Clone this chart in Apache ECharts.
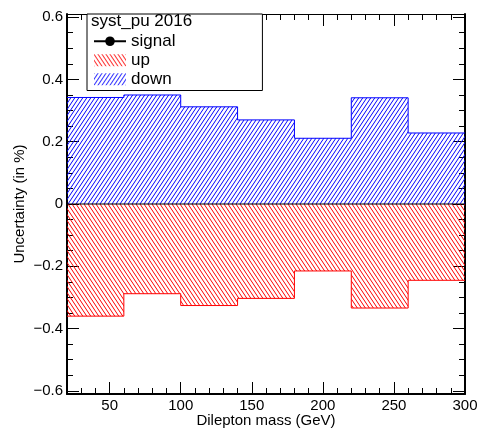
<!DOCTYPE html>
<html><head><meta charset="utf-8">
<script src="https://cdn.jsdelivr.net/npm/echarts@6/dist/echarts.min.js"></script>
<style>html,body{margin:0;padding:0;background:#fff}#c{width:479px;height:430px}</style>
</head><body><div id="c"></div>
<script>
// ---- data ----
const binEdges = [20, 60, 100, 140, 180, 220, 260, 300];
const signalValues = [0, 0, 0, 0, 0, 0, 0];
const upValues = [-0.360, -0.288, -0.326, -0.303, -0.215, -0.334, -0.245];
const downValues = [0.342, 0.350, 0.312, 0.270, 0.211, 0.341, 0.228];
const yMajorTicks = [-0.6, -0.4, -0.2, 0, 0.2, 0.4, 0.6];
const yMinorTicks = [-0.55, -0.5, -0.45, -0.35, -0.3, -0.25, -0.15, -0.1, -0.05, 0.05, 0.1, 0.15, 0.25, 0.3, 0.35, 0.45, 0.5, 0.55];
const xMajorTicks = [50, 100, 150, 200, 250, 300];
const xMinorTicks = [30, 40, 60, 70, 80, 90, 110, 120, 130, 140, 160, 170, 180, 190, 210, 220, 230, 240, 260, 270, 280, 290];
const seriesNames = ['signal', 'up', 'down'];
const legendTitle = 'syst_pu 2016';
const xTitle = 'Dilepton mass (GeV)';
const yTitle = 'Uncertainty (in %)';

const FONT = "'Liberation Sans', Arimo, Helvetica, Arial, sans-serif";

function hatch(color, dir) {
  const w = 4, h = 6;
  const c = document.createElement('canvas');
  c.width = w; c.height = h;
  const ctx = c.getContext('2d');
  ctx.strokeStyle = color; ctx.lineWidth = 1;
  for (let s = -2; s <= 2; s++) {
    ctx.beginPath();
    if (dir === '/') { ctx.moveTo(-w + s * w, 2 * h); ctx.lineTo(2 * w + s * w, -h); }
    else { ctx.moveTo(-w + s * w, -h); ctx.lineTo(2 * w + s * w, 2 * h); }
    ctx.stroke();
  }
  return { image: c, repeat: 'repeat' };
}
const redPat = hatch('#ff0000', '\\');
const bluePat = hatch('#0000ff', '/');

function histPoints(vals) {
  return binEdges.map((e, i) => [e, vals[Math.min(i, vals.length - 1)]]);
}

function yAx(pos, ticks, len, main) {
  return {
    type: 'value', position: pos, min: -0.61, max: 0.61,
    name: (main && pos === 'left') ? yTitle : '',
    nameLocation: 'middle', nameGap: 40, nameMoveOverlap: false,
    nameTextStyle: { fontSize: 15, color: '#000', fontFamily: FONT },
    axisLine: { show: main, onZero: false, lineStyle: { color: '#000', width: 2 } },
    axisTick: { show: true, inside: true, length: len, customValues: ticks, lineStyle: { color: '#000', width: 1 } },
    axisLabel: {
      show: main && pos === 'left', customValues: yMajorTicks, margin: 4,
      fontSize: 15, color: '#000', fontFamily: FONT,
      formatter: v => Math.abs(v) < 1e-9 ? '0' : (v < 0 ? '\u2212' : '') + Math.abs(v).toFixed(1)
    },
    splitLine: { show: false }
  };
}
function xAx(pos, ticks, len, main) {
  return {
    type: 'value', position: pos, min: 20, max: 300,
    name: (main && pos === 'bottom') ? xTitle : '',
    nameLocation: 'middle', nameGap: 19, nameMoveOverlap: false,
    nameTextStyle: { fontSize: 15, color: '#000', fontFamily: FONT },
    axisLine: { show: main, onZero: false, lineStyle: { color: '#000', width: pos === 'top' ? 1 : 2 } },
    axisTick: { show: true, inside: true, length: len, customValues: ticks, lineStyle: { color: '#000', width: 1 } },
    axisLabel: {
      show: main && pos === 'bottom', customValues: xMajorTicks, margin: 4,
      fontSize: 15, color: '#000', fontFamily: FONT
    },
    splitLine: { show: false }
  };
}

const chart = echarts.init(document.getElementById('c'), null, { renderer: 'canvas' });
chart.setOption({
  animation: false,
  backgroundColor: '#fff',
  grid: { left: 67, right: 14, top: 14, bottom: 36, containLabel: false, outerBoundsMode: 'none' },
  title: {
    text: legendTitle, left: 91, top: 13, padding: 0, z: 10,
    textStyle: { fontSize: 17, fontWeight: 'normal', color: '#000', lineHeight: 17, fontFamily: FONT }
  },
  legend: {
    orient: 'vertical', left: 87, top: 14, padding: [18, 87, 2, 6],
    itemGap: 0.5, itemWidth: 32, itemHeight: 12,
    borderColor: '#000', borderWidth: 1, backgroundColor: '#fff',
    selectedMode: false,
    textStyle: { fontSize: 17, lineHeight: 18.5, color: '#000', fontFamily: FONT },
    data: [
      { name: seriesNames[0] },
      { name: seriesNames[1], icon: 'rect', itemStyle: { color: redPat, borderWidth: 0 } },
      { name: seriesNames[2], icon: 'rect', itemStyle: { color: bluePat, borderWidth: 0 } }
    ]
  },
  xAxis: [
    xAx('bottom', xMajorTicks, 12, true),
    xAx('bottom', xMinorTicks, 6, false),
    xAx('top', xMajorTicks, 12, true),
    xAx('top', xMinorTicks, 6, false)
  ],
  yAxis: [
    yAx('left', yMajorTicks, 12, true),
    yAx('left', yMinorTicks, 6, false),
    yAx('right', yMajorTicks, 12, true),
    yAx('right', yMinorTicks, 6, false)
  ],
  series: [
    {
      name: seriesNames[2], type: 'line', step: 'end', symbol: 'none',
      data: histPoints(downValues),
      lineStyle: { color: '#0000ff', width: 1 }, itemStyle: { color: '#0000ff' },
      areaStyle: { color: bluePat, opacity: 1 }, z: 2
    },
    {
      name: seriesNames[1], type: 'line', step: 'end', symbol: 'none',
      data: histPoints(upValues),
      lineStyle: { color: '#ff0000', width: 1 }, itemStyle: { color: '#ff0000' },
      areaStyle: { color: redPat, opacity: 1 }, z: 2
    },
    {
      name: seriesNames[0], type: 'line', step: 'end', symbol: 'circle', showSymbol: false,
      data: histPoints(signalValues),
      lineStyle: { color: '#000', width: 1 }, itemStyle: { color: '#000' }, z: 3
    }
  ]
});
</script>
</body></html>
